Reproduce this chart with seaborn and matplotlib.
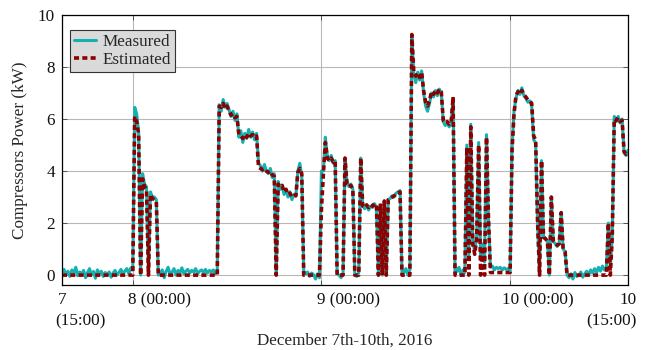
import numpy as np
import pandas as pd
import matplotlib
matplotlib.use("Agg")
import matplotlib.pyplot as plt
import matplotlib.transforms as mtransforms
import seaborn as sns

# Sample times: hours since Dec 7th 15:00, every 15 minutes (0 .. 72 h)
hours = np.arange(0, 289) * 0.25

measured = [
    0.10, 0.22, 0.02, 0.15, -0.05, 0.20, 0.08, 0.30, -0.02, 0.12, 0.05, 0.18,
    -0.10, 0.10, 0.25, 0.00, 0.14, -0.12, 0.20, 0.05, 0.15, -0.05, 0.10, 0.02,
    0.12, -0.08, 0.08, 0.18, 0.00, 0.10, 0.22, 0.05, 0.15, 0.25, 0.05, 0.28,
    0.20, 6.45, 6.20, 5.50, 0.00, 3.90, 3.50, 3.40, 0.00, 3.20, 3.00, 3.00,
    2.90, 0.00, 0.05, 0.20, -0.10, 0.15, 0.30, 0.02, 0.12, 0.25, 0.00, 0.18,
    0.10, 0.28, 0.05, 0.15, 0.22, 0.08, 0.18, 0.12, 0.25, 0.05, 0.15, 0.20,
    0.10, 0.22, 0.08, 0.18, 0.12, 0.20, 0.05, 0.15, 6.55, 6.30, 6.75, 6.45,
    6.60, 6.35, 6.10, 6.30, 5.95, 6.20, 5.30, 5.55, 5.10, 5.45, 5.25, 5.60,
    5.30, 5.50, 5.20, 5.45, 4.30, 4.20, 4.00, 4.25, 4.00, 3.90, 4.10, 3.75,
    3.90, 0.00, 3.60, 3.30, 3.45, 3.10, 3.30, 3.00, 3.20, 2.90, 3.10, 3.05,
    4.00, 4.30, 3.80, 0.15, 0.05, 0.12, -0.05, 0.08, 0.02, -0.15, 0.05, -0.10,
    4.00, 4.00, 5.30, 4.60, 4.40, 4.60, 4.30, 4.40, 0.05, 0.00, -0.10, 0.05,
    4.50, 3.60, 3.40, 3.50, 3.30, 0.00, -0.05, 0.10, 4.50, 2.70, 2.55, 2.70,
    2.50, 2.65, 2.60, 2.75, 2.60, 0.00, 2.70, 0.00, 2.80, 0.00, 2.90, 2.95,
    3.05, 3.00, 3.15, 3.20, 3.25, 0.10, 0.10, 0.25, 0.00, 0.20, 9.20, 7.70,
    7.40, 7.80, 7.50, 7.85, 7.00, 6.50, 6.30, 6.60, 7.00, 6.85, 7.10, 6.90,
    7.15, 7.00, 5.90, 5.75, 5.85, 5.70, 5.80, 6.80, 0.10, 0.15, 0.30, 0.00,
    0.20, 0.10, 5.00, 0.60, 5.80, 1.30, 0.90, 1.50, 5.10, 0.70, 1.20, 0.50,
    5.40, 2.20, 0.30, 0.35, 0.20, 0.30, 0.25, 0.30, 0.20, 0.28, 0.22, 0.25,
    0.10, 4.90, 6.30, 6.80, 7.10, 6.95, 7.20, 6.90, 6.80, 6.65, 6.70, 6.50,
    5.20, 5.10, 2.00, 0.00, 4.40, 1.50, 1.40, 1.30, 0.00, 3.00, 1.30, 1.20,
    1.10, 1.25, 2.40, 1.00, 0.90, 0.00, -0.10, 0.05, -0.15, 0.10, -0.05, 0.00,
    0.12, -0.08, 0.05, 0.15, 0.00, 0.20, 0.08, 0.25, 0.10, 0.30, 0.15, 0.35,
    0.20, 0.30, 2.00, 0.30, 1.50, 6.10, 5.90, 6.10, 5.85, 6.00, 4.70, 4.60,
    4.80,
]

estimated = [
    0.00, 0.00, 0.00, 0.00, 0.00, 0.00, 0.00, 0.00, 0.00, 0.00, 0.00, 0.00,
    0.00, 0.00, 0.00, 0.00, 0.00, 0.00, 0.00, 0.00, 0.00, 0.00, 0.00, 0.00,
    0.00, 0.00, 0.00, 0.00, 0.00, 0.00, 0.00, 0.00, 0.00, 0.00, 0.00, 0.00,
    0.00, 6.10, 5.90, 5.40, 0.00, 3.70, 3.40, 3.30, 0.00, 3.10, 2.95, 2.90,
    2.85, 0.00, 0.00, 0.00, 0.00, 0.00, 0.00, 0.00, 0.00, 0.00, 0.00, 0.00,
    0.00, 0.00, 0.00, 0.00, 0.00, 0.00, 0.00, 0.00, 0.00, 0.00, 0.00, 0.00,
    0.00, 0.00, 0.00, 0.00, 0.00, 0.00, 0.00, 0.00, 6.50, 6.45, 6.60, 6.40,
    6.50, 6.30, 6.15, 6.20, 6.05, 6.10, 5.40, 5.35, 5.25, 5.40, 5.30, 5.45,
    5.35, 5.40, 5.30, 5.35, 4.15, 4.10, 4.05, 4.10, 4.00, 3.95, 4.00, 3.85,
    3.80, 0.00, 3.50, 3.40, 3.45, 3.20, 3.30, 3.10, 3.15, 3.00, 3.05, 3.05,
    3.95, 4.10, 3.90, 0.00, 0.00, 0.00, 0.00, 0.00, 0.00, 0.00, 0.00, 0.00,
    2.50, 3.90, 5.10, 4.50, 4.40, 4.50, 4.35, 4.40, 0.00, 0.00, 0.00, 0.00,
    4.50, 3.50, 3.40, 3.45, 3.30, 0.00, 0.00, 0.00, 4.50, 2.65, 2.60, 2.70,
    2.60, 2.70, 2.65, 2.75, 2.70, 0.00, 2.75, 0.00, 2.85, 0.00, 2.90, 2.95,
    3.00, 3.05, 3.10, 3.15, 3.20, 0.00, 0.00, 0.00, 0.00, 0.00, 9.25, 7.80,
    7.65, 7.75, 7.60, 7.80, 7.10, 6.65, 6.50, 6.70, 7.05, 6.95, 7.10, 7.00,
    7.15, 7.05, 5.95, 5.85, 5.90, 5.80, 5.85, 6.85, 0.00, 0.00, 0.00, 0.00,
    0.00, 0.00, 4.90, 0.00, 5.70, 1.20, 0.80, 1.40, 5.00, 0.00, 1.10, 0.00,
    5.30, 2.20, 0.10, 0.10, 0.10, 0.10, 0.10, 0.10, 0.10, 0.10, 0.10, 0.10,
    0.10, 4.80, 6.20, 6.90, 7.05, 6.95, 7.10, 6.95, 6.85, 6.75, 6.70, 6.60,
    5.35, 5.20, 2.00, 0.00, 4.40, 1.45, 1.40, 1.30, 0.00, 3.00, 1.30, 1.20,
    1.15, 1.20, 2.40, 1.00, 0.90, 0.00, 0.00, 0.00, 0.00, 0.00, 0.00, 0.00,
    0.00, 0.00, 0.00, 0.00, 0.00, 0.00, 0.00, 0.00, 0.00, 0.00, 0.00, 0.00,
    0.00, 0.00, 2.00, 0.00, 1.50, 6.00, 5.95, 6.05, 5.90, 5.95, 4.75, 4.65,
    4.75,
]

tick_hours = [0, 9, 33, 57, 72]
tick_labels = ["7", "8 (00:00)", "9 (00:00)", "10 (00:00)", "10"]
sub_labels = ["(15:00)", "(15:00)"]

df = pd.DataFrame({"hours": hours, "Measured": measured, "Estimated": estimated})

sns.set_theme(style="whitegrid")
plt.rcParams["font.family"] = ["Liberation Serif", "DejaVu Serif"]

FS = 12.3

fig = plt.figure(figsize=(6.52, 3.5), dpi=100)
ax = fig.add_axes([62 / 652, 1 - 285 / 350, (628 - 62) / 652, (285 - 15) / 350])

teal = "#13B2B2"
dred = "#8B0000"

sns.lineplot(data=df, x="hours", y="Measured", ax=ax, color=teal, linewidth=2.2,
             label="Measured", estimator=None)
sns.lineplot(data=df, x="hours", y="Estimated", ax=ax, color=dred, linewidth=2.6,
             label="Estimated", estimator=None)
ax.lines[1].set_dashes([1.4, 0.9])

ax.set_xlim(0, 72)
ax.set_ylim(-0.38, 10)
ax.set_xticks(tick_hours)
ax.set_xticklabels(tick_labels)
ax.set_yticks([0, 2, 4, 6, 8, 10])
ax.set_yticklabels(["0", "2", "4", "6", "8", "10"])

ax.set_facecolor("white")
ax.grid(True, color="#b8b8b8", linewidth=0.8)
for s in ax.spines.values():
    s.set_color("black")
    s.set_linewidth(0.9)
ax.tick_params(axis="both", direction="in", length=3.5, width=0.6, color="#444444",
               labelsize=FS, top=True, right=True, bottom=True, left=True, pad=5,
               labelcolor="#111111")

# x tick labels: first digit centred on the tick, rest of text to its right
shifts = [0, -4.5, -4.5, -8.5, 0]
aligns = ["center", "left", "left", "left", "center"]
for lab, dx, ha in zip(ax.get_xticklabels(), shifts, aligns):
    lab.set_ha(ha)
    lab.set_transform(lab.get_transform() +
                      mtransforms.ScaledTranslation(dx / 100, 0, fig.dpi_scale_trans))

ax.set_ylabel("Compressors Power (kW)", fontsize=FS, labelpad=7)
ax.set_xlabel("December 7th-10th, 2016", fontsize=FS, labelpad=18)

# second line of the end tick labels
ax.text(-7 / 566, -0.105, sub_labels[0], transform=ax.transAxes, fontsize=FS,
        ha="left", va="top", color="#111111")
ax.text(1.0 + 9 / 566, -0.105, sub_labels[1], transform=ax.transAxes, fontsize=FS,
        ha="right", va="top", color="#111111")

leg = ax.legend(loc="upper left", bbox_to_anchor=(8 / 566, 1 - 15 / 270), fontsize=FS,
                frameon=True, fancybox=False, framealpha=1.0, handlelength=1.3,
                borderpad=0.25, labelspacing=0.1, handletextpad=0.35, borderaxespad=0)
leg.get_frame().set_facecolor("#dadada")
leg.get_frame().set_edgecolor("#333333")
leg.get_frame().set_linewidth(0.8)

fig.savefig("out.png", dpi=100)
